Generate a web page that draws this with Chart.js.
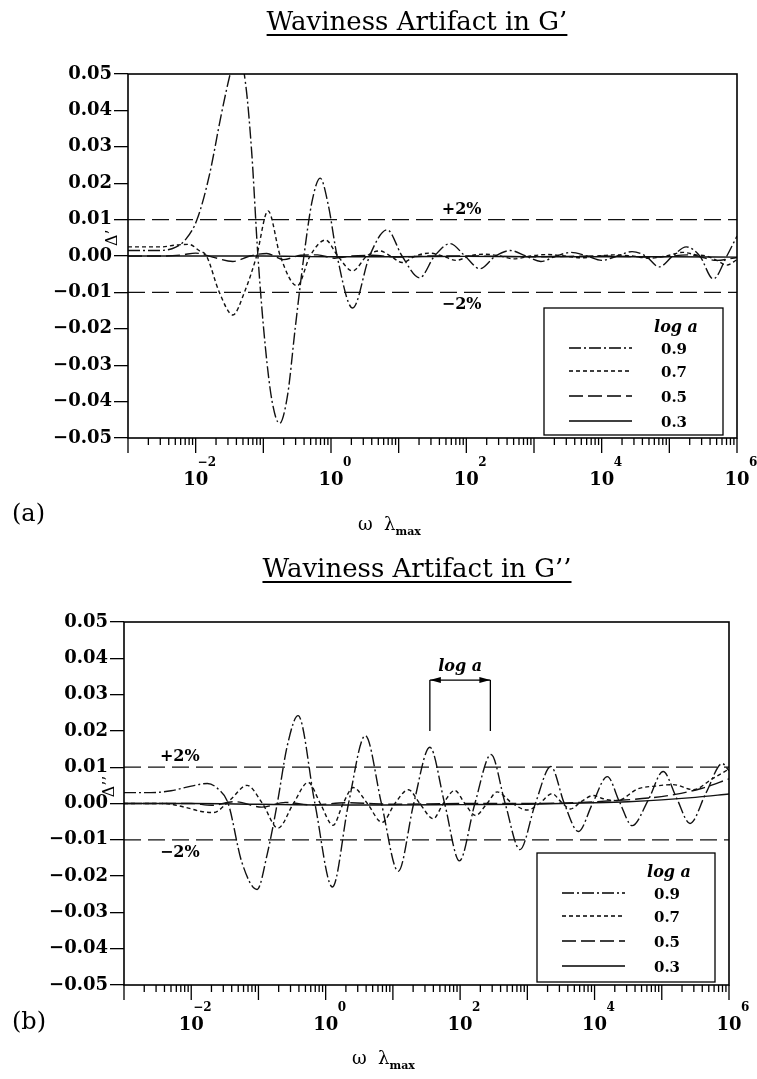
<!DOCTYPE html>
<html>
<head>
<meta charset="utf-8">
<script src="https://cdn.jsdelivr.net/npm/chart.js@4.4.0/dist/chart.umd.min.js"></script>
<style>
  body { margin: 0; background: #fff; width: 757px; height: 1079px; position: relative; overflow: hidden; font-family: 'DejaVu Serif', serif; color: #000; }
  canvas { position: absolute; left: 0; }
  .title { position: absolute; left: 0; width: 834px; text-align: center; font-size: 26px; line-height: 30px; text-decoration: underline; text-decoration-thickness: 1.5px; text-underline-offset: 4px; }
  .panel { position: absolute; left: 12px; font-size: 24px; line-height: 28px; }
  .xtitle { position: absolute; font-size: 18px; line-height: 22px; }
  .xtitle sub { font-size: 11px; font-weight: bold; vertical-align: -5px; }
</style>
</head>
<body>
<canvas id="chartA" width="757" height="545" style="top:0"></canvas>
<canvas id="chartB" width="757" height="534" style="top:545px"></canvas>

<div class="title" style="top:6px">Waviness Artifact in G’</div>
<div class="panel" style="top:499px">(a)</div>
<div class="xtitle" style="top:513px; left:358px">ω&nbsp;&nbsp;λ<sub>max</sub></div>

<div class="title" style="top:553px">Waviness Artifact in G’’</div>
<div class="panel" style="top:1007px">(b)</div>
<div class="xtitle" style="top:1047px; left:352px">ω&nbsp;&nbsp;λ<sub>max</sub></div>

<script>
// x values as log10(ω λmax)
const decades = [-3, -2, -1, 0, 1, 2, 3, 4, 5, 6];
const labelExps = [-2, 0, 2, 4, 6];
const seriesLabels = ['0.9', '0.7', '0.5', '0.3'];
const bandLevels = [0.01, -0.01];
const bandTexts = ['+2%', '−2%'];

// (a) G'
const a09LogW = [-3.0, -2.6, -2.35, -2.15, -1.98, -1.8, -1.62, -1.49, -1.38, -1.26, -1.17, -1.08, -0.97, -0.87, -0.76, -0.64, -0.53, -0.40, -0.28, -0.16, -0.04, 0.09, 0.32, 0.57, 0.83, 1.05, 1.31, 1.53, 1.76, 1.98, 2.2, 2.43, 2.65, 2.88, 3.1, 3.33, 3.55, 3.78, 4.0, 4.23, 4.45, 4.65, 4.85, 5.05, 5.25, 5.45, 5.65, 5.85, 6.0];
const a09 = [0.0015, 0.0015, 0.002, 0.0045, 0.010, 0.022, 0.039, 0.050, 0.057, 0.047, 0.028, 0.0, -0.025, -0.040, -0.046, -0.038, -0.020, 0.0, 0.015, 0.0214, 0.014, 0.0, -0.0143, 0.0, 0.0072, 0.0, -0.006, 0.0, 0.0034, 0.0, -0.0035, 0.0, 0.0015, 0.0, -0.0015, 0.0, 0.001, 0.0, -0.0012, 0.0, 0.0012, 0.0, -0.003, 0.0, 0.0025, 0.0, -0.0063, 0.0, 0.0055];

const a07LogW = [-3.0, -2.5, -2.3, -2.1, -1.95, -1.84, -1.65, -1.45, -1.28, -1.1, -0.93, -0.75, -0.5, -0.31, -0.08, 0.1, 0.32, 0.53, 0.72, 0.88, 1.05, 1.25, 1.45, 1.65, 1.85, 2.05, 2.25, 2.5, 2.7, 2.95, 3.2, 3.45, 3.7, 3.95, 4.2, 4.45, 4.7, 4.95, 5.2, 5.4, 5.55, 5.7, 5.85, 6.0];
const a07 = [0.0025, 0.0025, 0.003, 0.0032, 0.0015, 0.0, -0.010, -0.0162, -0.010, 0.0, 0.0124, 0.0, -0.0082, 0.0, 0.0044, 0.0, -0.0041, 0.0, 0.0014, 0.0, -0.0018, 0.0, 0.0008, 0.0, -0.0012, 0.0, 0.0005, 0.0, -0.0008, 0.0, 0.0004, 0.0, -0.0005, 0.0, 0.0003, 0.0, -0.0006, 0.0, 0.001, 0.0003, 0.0, -0.0012, -0.0025, -0.001];

const a05LogW = [-3.0, -2.5, -2.2, -2.0, -1.75, -1.45, -1.2, -0.95, -0.7, -0.45, -0.2, 0.05, 0.3, 0.6, 1.0, 1.5, 2.0, 3.0, 4.0, 4.8, 5.3, 5.7, 6.0];
const a05 = [0.0, 0.0, 0.0003, 0.0008, -0.0003, -0.0015, 0.0, 0.0007, -0.001, 0.0002, 0.0003, -0.0006, 0.0, 0.0002, -0.0003, 0.0, 0.0, -0.0002, 0.0, -0.0003, 0.0003, -0.0012, -0.0004];

const a03LogW = [-3, -2, -1, 0, 1, 2, 3, 4, 5, 6];
const a03 = [0, 0, 0, -0.0002, -0.0002, -0.0001, -0.0002, -0.0002, -0.0002, -0.0003];

// (b) G''
const b09LogW = [-3.0, -2.6, -2.3, -2.0, -1.76, -1.6, -1.45, -1.25, -1.02, -0.87, -0.72, -0.57, -0.41, -0.16, 0.1, 0.34, 0.59, 0.83, 1.08, 1.31, 1.55, 1.77, 1.99, 2.22, 2.46, 2.67, 2.89, 3.12, 3.35, 3.55, 3.76, 3.97, 4.19, 4.37, 4.56, 4.8, 5.02, 5.22, 5.42, 5.66, 5.9, 6.0];
const b09 = [0.003, 0.003, 0.0035, 0.0048, 0.0055, 0.004, 0.0, -0.016, -0.0237, -0.014, 0.0, 0.016, 0.0242, 0.0, -0.023, 0.0, 0.0187, 0.0, -0.0187, 0.0, 0.0155, 0.0, -0.0158, 0.0, 0.0135, 0.0, -0.0127, 0.0, 0.0102, 0.0, -0.0077, 0.0, 0.0074, 0.0005, -0.0061, 0.001, 0.0088, 0.0015, -0.0055, 0.003, 0.011, 0.009];

const b07LogW = [-3.0, -2.4, -2.1, -1.85, -1.67, -1.42, -1.17, -0.94, -0.71, -0.48, -0.26, -0.08, 0.11, 0.26, 0.41, 0.62, 0.84, 1.03, 1.23, 1.4, 1.6, 1.75, 1.92, 2.07, 2.23, 2.4, 2.55, 2.78, 3.0, 3.18, 3.37, 3.5, 3.64, 3.8, 3.98, 4.15, 4.34, 4.64, 4.9, 5.17, 5.47, 5.75, 6.0];
const b07 = [0.0, 0.0, -0.001, -0.0022, -0.0025, 0.001, 0.005, 0.0, -0.0068, 0.0, 0.0058, 0.0, -0.006, 0.0, 0.0044, 0.0, -0.0052, 0.0, 0.0038, 0.0, -0.0042, 0.0, 0.0036, 0.0, -0.0033, 0.0, 0.0032, 0.0, -0.0018, 0.0, 0.0027, 0.0005, -0.0015, 0.0005, 0.0022, 0.0012, 0.0008, 0.004, 0.0048, 0.0052, 0.0038, 0.0068, 0.0095];

const b05LogW = [-3.0, -2.5, -2.0, -1.7, -1.35, -0.95, -0.6, -0.2, 0.3, 1.0, 2.0, 3.0, 3.8, 4.3, 4.8, 5.2, 5.6, 6.0];
const b05 = [0.0, 0.0, 0.0, -0.0005, 0.0005, -0.001, 0.0003, -0.0004, 0.0002, -0.0002, 0.0, 0.0, 0.0003, 0.0008, 0.0015, 0.0025, 0.0042, 0.0068];

const b03LogW = [-3, -2, -1, 0, 1, 2, 3, 4, 4.5, 5, 5.5, 6];
const b03 = [0, 0, -0.0002, -0.0004, -0.0004, -0.0003, -0.0002, 0.0002, 0.0005, 0.001, 0.0017, 0.0026];

// line styles for 0.9, 0.7, 0.5, 0.3
const seriesDash = [[12, 3, 2, 3], [4, 3], [14, 5], []];
const labelFont = 'bold 18px "DejaVu Serif"';

const toPoints = (logW, vals) => logW.map((l, i) => ({ x: 10 ** l, y: vals[i] }));
const fmt = v => (v < -1e-9 ? '−' : '') + Math.abs(v).toFixed(2);

function buildDatasets(series) {
    const xMin = 10 ** decades[0], xMax = 10 ** decades[decades.length - 1];
    const bands = bandLevels.map(lv => ({
        label: '',
        data: [{ x: xMin, y: lv }, { x: xMax, y: lv }],
        borderColor: '#111', borderWidth: 1.3, borderDash: [17, 7], pointRadius: 0
    }));
    const curves = series.map((s, i) => ({
        label: seriesLabels[i],
        data: toPoints(s[0], s[1]),
        borderColor: '#111', borderWidth: 1.4, borderDash: seriesDash[i],
        pointRadius: 0, cubicInterpolationMode: 'monotone', fill: false
    }));
    return bands.concat(curves);
}

function line(ctx, x1, y1, x2, y2) { ctx.moveTo(x1, y1); ctx.lineTo(x2, y2); }

// frame, log ticks, 10^n labels, legend box and annotations
const paperPlugin = {
    id: 'paper',
    afterDraw(chart, args, o) {
        const { ctx, chartArea: a, scales: { x, y } } = chart;
        ctx.save();
        ctx.strokeStyle = '#000';
        ctx.fillStyle = '#000';
        ctx.setLineDash([]);
        ctx.lineWidth = 1.6;
        ctx.strokeRect(a.left, a.top, a.right - a.left, a.bottom - a.top);

        // x ticks
        ctx.lineWidth = 1.3;
        ctx.beginPath();
        decades.forEach((e, i) => {
            const px = x.getPixelForValue(10 ** e);
            line(ctx, px, a.bottom, px, a.bottom + 15);
            if (i < decades.length - 1) {
                for (let k = 2; k <= 9; k++) {
                    const p = x.getPixelForValue(k * 10 ** e);
                    line(ctx, p, a.bottom, p, a.bottom + 7);
                }
            }
        });
        ctx.stroke();

        // x labels 10^n
        labelExps.forEach(e => {
            const px = x.getPixelForValue(10 ** e);
            ctx.font = labelFont;
            ctx.textAlign = 'center';
            ctx.fillText('10', px, a.bottom + o.baseGap);
            ctx.font = 'bold 12px "DejaVu Serif"';
            ctx.textAlign = 'left';
            ctx.fillText(String(Math.abs(e)), px + 12, a.bottom + o.baseGap - 19);
            if (e < 0) {
                ctx.textAlign = 'right';
                ctx.fillText('−', px + 12, a.bottom + o.baseGap - 19);
            }
        });

        // y title
        ctx.save();
        ctx.translate(a.left - o.yTitleGap, y.getPixelForValue(o.yTitleAt));
        ctx.rotate(-Math.PI / 2);
        ctx.font = '16px "DejaVu Serif"';
        ctx.textAlign = 'center';
        ctx.textBaseline = 'middle';
        ctx.fillText(o.yTitle, 0, 0);
        ctx.restore();

        // +2% / -2% labels
        ctx.font = 'bold 16px "DejaVu Serif"';
        ctx.textAlign = 'center';
        const bx0 = x.getPixelForValue(10 ** o.bandLabelAt);
        bandLevels.forEach((lv, i) => {
            const py = y.getPixelForValue(lv) + (lv > 0 ? -6 : 17);
            ctx.fillText(bandTexts[i], bx0, py);
        });

        // bracket showing the period log a
        if (o.bracket) {
            const b = o.bracket;
            const x1 = x.getPixelForValue(10 ** b.from), x2 = x.getPixelForValue(10 ** b.to);
            const yHi = y.getPixelForValue(b.hi), yLo = y.getPixelForValue(b.lo);
            ctx.lineWidth = 1.3;
            ctx.beginPath();
            line(ctx, x1, yHi, x1, yLo);
            line(ctx, x2, yHi, x2, yLo);
            line(ctx, x1, yHi, x2, yHi);
            ctx.stroke();
            ctx.beginPath();
            ctx.moveTo(x1, yHi); ctx.lineTo(x1 + 11, yHi - 3); ctx.lineTo(x1 + 11, yHi + 3); ctx.closePath();
            ctx.moveTo(x2, yHi); ctx.lineTo(x2 - 11, yHi - 3); ctx.lineTo(x2 - 11, yHi + 3); ctx.closePath();
            ctx.fill();
            ctx.font = 'italic bold 16px "DejaVu Serif"';
            ctx.textAlign = 'center';
            ctx.fillText('log a', (x1 + x2) / 2, yHi - 9);
        }

        // legend box
        const L = o.legend;
        const lx = a.right - L.right - L.w, ly = a.bottom - L.bottom - L.h;
        ctx.fillStyle = '#fff';
        ctx.fillRect(lx, ly, L.w, L.h);
        ctx.lineWidth = 1.3;
        ctx.strokeRect(lx, ly, L.w, L.h);
        ctx.fillStyle = '#000';
        ctx.font = 'italic bold 16px "DejaVu Serif"';
        ctx.textAlign = 'center';
        ctx.fillText('log a', lx + 132, ly + 24);
        ctx.font = 'bold 15px "DejaVu Serif"';
        const rows = [40, 63, 88, 113];
        chart.data.datasets.filter(d => d.label).forEach((d, i) => {
            const ry = ly + rows[i];
            ctx.setLineDash(d.borderDash);
            ctx.lineWidth = 1.3;
            ctx.beginPath();
            line(ctx, lx + 25, ry, lx + 88, ry);
            ctx.stroke();
            ctx.setLineDash([]);
            ctx.fillText(d.label, lx + 130, ry + 5.5);
        });
        ctx.restore();
    }
};

function makeChart(id, series, geo, extra) {
    return new Chart(document.getElementById(id), {
        type: 'line',
        data: { datasets: buildDatasets(series) },
        options: {
            responsive: false,
            animation: false,
            devicePixelRatio: 1,
            events: [],
            layout: { padding: { top: geo.top, right: geo.right, left: 0, bottom: 0 } },
            plugins: {
                legend: { display: false },
                tooltip: { enabled: false },
                paper: extra
            },
            scales: {
                x: {
                    type: 'logarithmic',
                    min: 10 ** decades[0],
                    max: 10 ** decades[decades.length - 1],
                    afterFit(s) { s.height = geo.xHeight; },
                    border: { display: false },
                    grid: { display: false },
                    ticks: { display: false }
                },
                y: {
                    min: -0.05,
                    max: 0.05,
                    afterFit(s) { s.width = geo.left; },
                    border: { display: false },
                    grid: { display: true, drawOnChartArea: false, drawTicks: true, tickLength: 14, color: '#000', lineWidth: 1.3 },
                    ticks: { stepSize: 0.01, padding: 2, color: '#000', font: { family: 'DejaVu Serif', size: 18, weight: 'bold' }, callback: v => fmt(v) }
                }
            }
        },
        plugins: [paperPlugin]
    });
}

makeChart('chartA',
    [[a09LogW, a09], [a07LogW, a07], [a05LogW, a05], [a03LogW, a03]],
    { top: 74, right: 20, left: 128, xHeight: 107 },
    { baseGap: 47, yTitle: 'Δ’', yTitleAt: 0.005, yTitleGap: 15, bandLabelAt: 1.93,
      legend: { w: 179, h: 127, right: 14, bottom: 3 } });

makeChart('chartB',
    [[b09LogW, b09], [b07LogW, b07], [b05LogW, b05], [b03LogW, b03]],
    { top: 77, right: 28, left: 124, xHeight: 94 },
    { baseGap: 45, yTitle: 'Δ’’', yTitleAt: 0.0047, yTitleGap: 14, bandLabelAt: -2.17,
      bracket: { from: 1.55, to: 2.45, lo: 0.020, hi: 0.034 },
      legend: { w: 178, h: 129, right: 14, bottom: 3 } });
</script>
</body>
</html>
